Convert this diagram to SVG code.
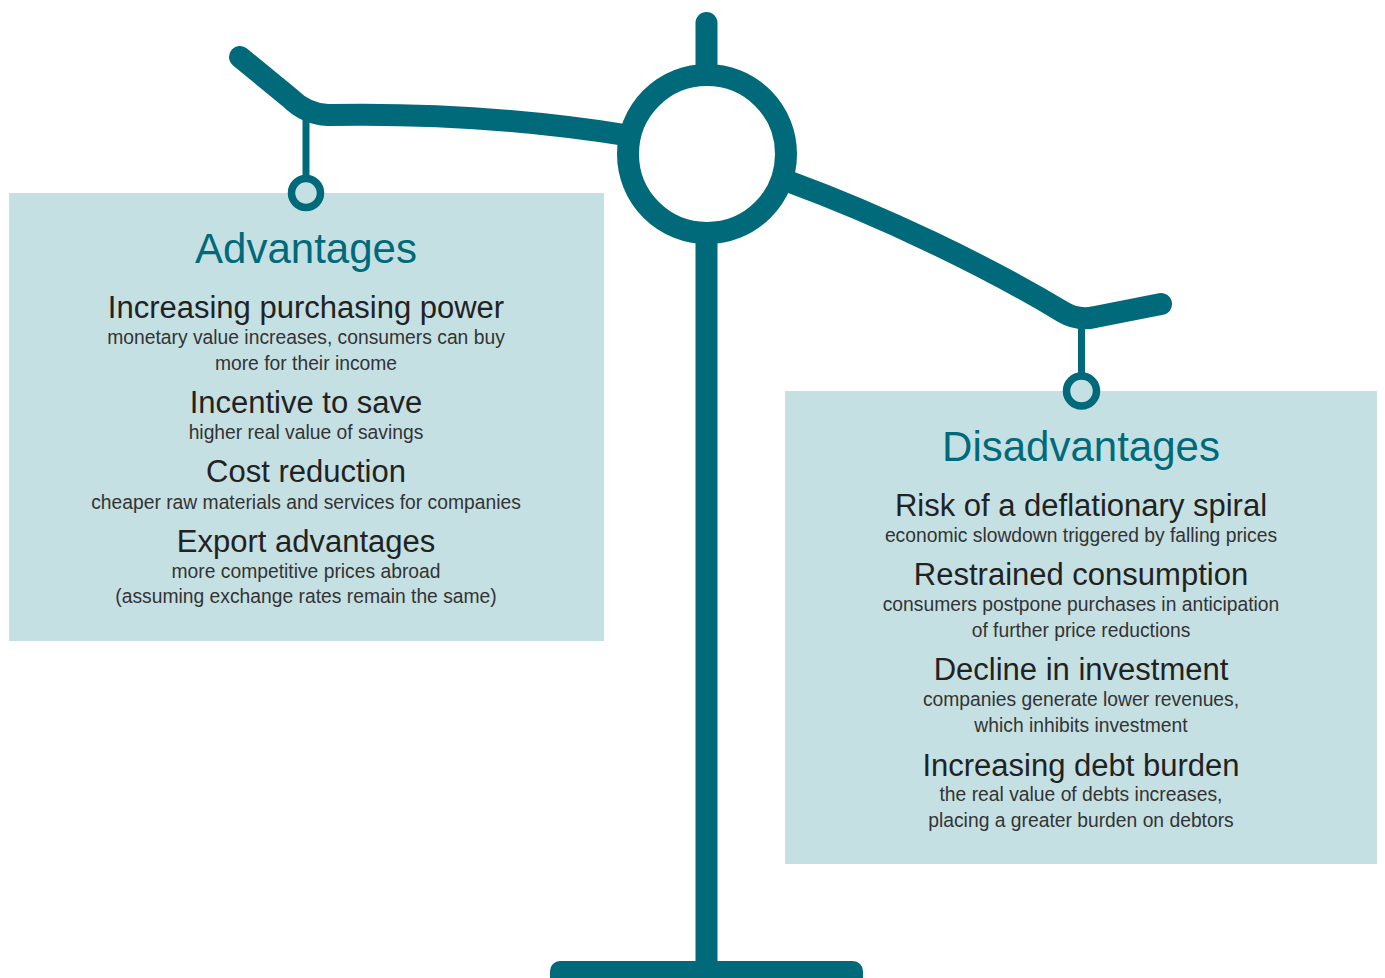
<svg xmlns="http://www.w3.org/2000/svg" width="1385" height="978" viewBox="0 0 1385 978">
<style>
.box{fill:#C5E0E3}
.beam{fill:none;stroke:#006A7A;stroke-width:22;stroke-linecap:round;stroke-linejoin:round}
.hook{fill:none;stroke:#006A7A;stroke-width:7}
.ring{fill:#C5E0E3;stroke:#006A7A;stroke-width:7.5}
text{font-family:"Liberation Sans",Arial,sans-serif;text-anchor:middle}
.title{font-size:42px;fill:#006A7A}
.h{font-size:31px;fill:#222}
.s{font-size:19.3px;fill:#333}
</style>
<rect width="1385" height="978" fill="#fff"/>
<g id="scale">
<line class="beam" x1="706.5" y1="23" x2="706.5" y2="965"/>
<rect x="550" y="961" width="313" height="30" rx="10" fill="#006A7A"/>
<path class="beam" d="M240,57 L290,98 Q306,114 328,115 C430,113 530,120 625,135"/>
<path class="beam" d="M790,182 C880,215 985,265 1063,312 Q1078,321 1095,317 L1161,304"/>
<circle cx="707" cy="154" r="79" fill="#fff" stroke="#006A7A" stroke-width="22"/>
</g>
<g id="advantages">
<rect class="box" x="9" y="193" width="595" height="448"/>
<line class="hook" x1="306" y1="112" x2="306" y2="180"/>
<circle class="ring" cx="306" cy="193" r="14.5"/>
<text class="title" x="306" y="263">Advantages</text>
<text class="h" x="306" y="318">Increasing purchasing power</text>
<text class="s" x="306" y="344">monetary value increases, consumers can buy</text>
<text class="s" x="306" y="370">more for their income</text>
<text class="h" x="306" y="413">Incentive to save</text>
<text class="s" x="306" y="439">higher real value of savings</text>
<text class="h" x="306" y="482">Cost reduction</text>
<text class="s" x="306" y="509">cheaper raw materials and services for companies</text>
<text class="h" x="306" y="552">Export advantages</text>
<text class="s" x="306" y="578">more competitive prices abroad</text>
<text class="s" x="306" y="603">(assuming exchange rates remain the same)</text>
</g>
<g id="disadvantages">
<rect class="box" x="785" y="391" width="592" height="473"/>
<line class="hook" x1="1081.5" y1="315" x2="1081.5" y2="378"/>
<circle class="ring" cx="1081.5" cy="391" r="15"/>
<text class="title" x="1081" y="461">Disadvantages</text>
<text class="h" x="1081" y="516">Risk of a deflationary spiral</text>
<text class="s" x="1081" y="542">economic slowdown triggered by falling prices</text>
<text class="h" x="1081" y="585">Restrained consumption</text>
<text class="s" x="1081" y="611">consumers postpone purchases in anticipation</text>
<text class="s" x="1081" y="637">of further price reductions</text>
<text class="h" x="1081" y="680">Decline in investment</text>
<text class="s" x="1081" y="706">companies generate lower revenues,</text>
<text class="s" x="1081" y="732">which inhibits investment</text>
<text class="h" x="1081" y="776">Increasing debt burden</text>
<text class="s" x="1081" y="801">the real value of debts increases,</text>
<text class="s" x="1081" y="827">placing a greater burden on debtors</text>
</g>
</svg>
